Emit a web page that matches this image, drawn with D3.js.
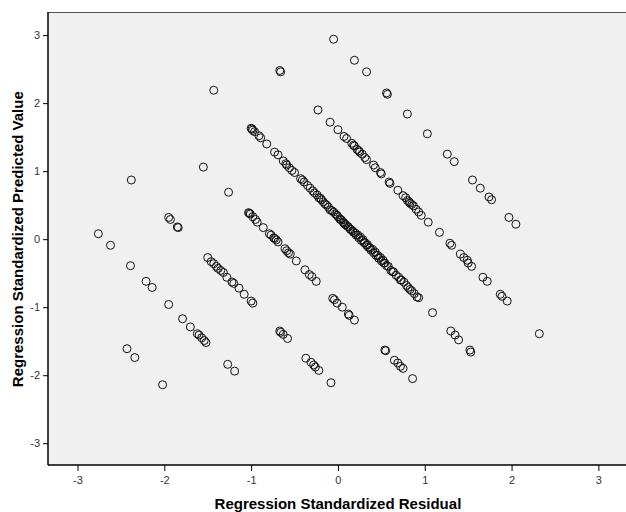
<!DOCTYPE html>
<html>
<head>
<meta charset="utf-8">
<script src="https://cdn.jsdelivr.net/npm/d3@7"></script>
<style>
  body { margin: 0; background: #fff; }
  .tick-text { font-family: Arial, "Liberation Sans", sans-serif; font-size: 11px; fill: #333; }
  .axis-title { font-family: Arial, "Liberation Sans", sans-serif; font-size: 15px; font-weight: bold; fill: #000; }
</style>
</head>
<body>
<div id="chart"></div>
<script>
// [standardized residual, standardized predicted] - one array per diagonal band
const bandA = [[-0.05,2.94],[0.19,2.63],[0.33,2.46],[0.56,2.15],[0.57,2.13],[0.80,1.84],[1.03,1.55],[1.26,1.25],[1.34,1.14],[1.55,0.87],[1.64,0.75],[1.74,0.62],[1.77,0.58],[1.97,0.32],[2.05,0.22]];
const bandB = [[-0.67,2.48],[-0.66,2.46],[-0.23,1.90],[-0.09,1.72],[0.00,1.61],[0.07,1.51],[0.10,1.48],[0.16,1.41],[0.18,1.38],[0.19,1.37],[0.22,1.32],[0.24,1.30],[0.25,1.28],[0.28,1.25],[0.31,1.20],[0.33,1.17],[0.41,1.09],[0.43,1.05],[0.49,0.98],[0.50,0.96],[0.59,0.84],[0.60,0.82],[0.69,0.72],[0.75,0.64],[0.78,0.61],[0.80,0.57],[0.82,0.55],[0.83,0.53],[0.85,0.51],[0.87,0.49],[0.90,0.44],[0.93,0.40],[0.96,0.35],[1.04,0.25],[1.17,0.10],[1.29,-0.06],[1.31,-0.09],[1.41,-0.22],[1.45,-0.27],[1.49,-0.31],[1.50,-0.35],[1.54,-0.40],[1.67,-0.56],[1.72,-0.62],[1.87,-0.81],[1.89,-0.84],[1.95,-0.91],[2.32,-1.39]];
const bandC = [[-1.43,2.19],[-1.00,1.63],[-0.99,1.62],[-0.98,1.60],[-0.96,1.58],[-0.91,1.52],[-0.89,1.49],[-0.82,1.40],[-0.73,1.28],[-0.69,1.24],[-0.63,1.15],[-0.60,1.11],[-0.59,1.09],[-0.56,1.05],[-0.53,1.01],[-0.50,0.98],[-0.43,0.89],[-0.41,0.87],[-0.39,0.84],[-0.35,0.79],[-0.32,0.75],[-0.29,0.71],[-0.27,0.68],[-0.24,0.65],[-0.22,0.61],[-0.20,0.60],[-0.19,0.58],[-0.17,0.55],[-0.15,0.52],[-0.13,0.50],[-0.11,0.47],[-0.09,0.43],[-0.07,0.42],[-0.05,0.40],[-0.03,0.37],[-0.01,0.35],[0.00,0.33],[0.02,0.30],[0.03,0.29],[0.04,0.28],[0.06,0.25],[0.07,0.24],[0.08,0.22],[0.09,0.21],[0.11,0.19],[0.12,0.18],[0.14,0.15],[0.15,0.14],[0.17,0.12],[0.18,0.10],[0.20,0.09],[0.21,0.06],[0.23,0.06],[0.24,0.02],[0.26,0.03],[0.27,-0.02],[0.29,-0.01],[0.30,-0.05],[0.31,-0.05],[0.33,-0.09],[0.34,-0.08],[0.35,-0.12],[0.37,-0.13],[0.38,-0.16],[0.40,-0.15],[0.41,-0.20],[0.43,-0.19],[0.44,-0.24],[0.46,-0.24],[0.47,-0.28],[0.49,-0.27],[0.50,-0.32],[0.52,-0.31],[0.53,-0.35],[0.54,-0.35],[0.56,-0.39],[0.58,-0.40],[0.61,-0.46],[0.63,-0.48],[0.64,-0.48],[0.67,-0.53],[0.70,-0.56],[0.72,-0.60],[0.73,-0.60],[0.76,-0.63],[0.79,-0.68],[0.81,-0.71],[0.83,-0.74],[0.85,-0.76],[0.88,-0.80],[0.91,-0.85],[0.93,-0.86],[1.09,-1.08],[1.30,-1.35],[1.35,-1.41],[1.39,-1.48],[1.52,-1.63],[1.53,-1.66]];
const bandD = [[-1.55,1.06],[-1.26,0.69],[-1.03,0.39],[-1.02,0.38],[-1.01,0.37],[-0.98,0.33],[-0.95,0.29],[-0.93,0.25],[-0.86,0.17],[-0.79,0.08],[-0.77,0.06],[-0.74,0.02],[-0.73,0.01],[-0.71,-0.01],[-0.69,-0.04],[-0.61,-0.14],[-0.59,-0.17],[-0.57,-0.20],[-0.55,-0.22],[-0.48,-0.32],[-0.38,-0.45],[-0.33,-0.52],[-0.30,-0.55],[-0.25,-0.62],[-0.06,-0.87],[-0.04,-0.89],[-0.01,-0.94],[0.05,-1.00],[0.12,-1.10],[0.13,-1.12],[0.19,-1.19],[0.54,-1.63],[0.55,-1.64],[0.65,-1.78],[0.69,-1.82],[0.72,-1.87],[0.75,-1.90],[0.86,-2.05]];
const bandE = [[-2.38,0.87],[-1.95,0.32],[-1.93,0.29],[-1.85,0.18],[-1.84,0.17],[-1.50,-0.27],[-1.46,-0.33],[-1.43,-0.36],[-1.40,-0.40],[-1.38,-0.43],[-1.35,-0.46],[-1.32,-0.49],[-1.28,-0.56],[-1.22,-0.63],[-1.20,-0.65],[-1.14,-0.72],[-1.08,-0.81],[-1.00,-0.91],[-0.98,-0.94],[-0.67,-1.35],[-0.66,-1.37],[-0.63,-1.40],[-0.58,-1.46],[-0.37,-1.75],[-0.31,-1.81],[-0.28,-1.85],[-0.26,-1.88],[-0.22,-1.93],[-0.08,-2.11]];
const bandF = [[-2.76,0.08],[-2.62,-0.09],[-2.39,-0.39],[-2.21,-0.62],[-2.14,-0.71],[-1.95,-0.96],[-1.79,-1.17],[-1.70,-1.29],[-1.62,-1.39],[-1.60,-1.41],[-1.57,-1.45],[-1.54,-1.49],[-1.52,-1.52],[-1.27,-1.84],[-1.19,-1.94]];
const bandG = [[-2.43,-1.61],[-2.34,-1.74],[-2.02,-2.14]];

const xTicks = [-3, -2, -1, 0, 1, 2, 3];
const yTicks = [-3, -2, -1, 0, 1, 2, 3];

const X_LABEL = 'Regression Standardized Residual';
const Y_LABEL = 'Regression Standardized Predicted Value';

const width = 626;
const height = 512;
const plot = { left: 48, top: 12, right: 627, bottom: 465 };

const points = [].concat(bandA, bandB, bandC, bandD, bandE, bandF, bandG);

const svg = d3.select('#chart')
  .append('svg')
    .attr('width', width)
    .attr('height', height);

const x = d3.scaleLinear()
  .domain([-3.34, 3.33])
  .range([plot.left, plot.right]);

const y = d3.scaleLinear()
  .domain([-3.32, 3.34])
  .range([plot.bottom, plot.top]);

// plot background
svg.append('rect')
  .attr('x', plot.left)
  .attr('y', plot.top)
  .attr('width', plot.right - plot.left)
  .attr('height', plot.bottom - plot.top)
  .attr('fill', '#f0f0f0');

// top frame line
svg.append('line')
  .attr('x1', plot.left).attr('x2', plot.right)
  .attr('y1', plot.top + 0.5).attr('y2', plot.top + 0.5)
  .attr('stroke', '#555')
  .attr('stroke-width', 1);

svg.append('g')
  .attr('class', 'points')
  .selectAll('circle')
  .data(points)
  .enter().append('circle')
    .attr('cx', d => x(d[0]))
    .attr('cy', d => y(d[1]))
    .attr('r', 4)
    .attr('fill', 'none')
    .attr('stroke', '#111')
    .attr('stroke-width', 1);

// plain hyphen for negatives, like the original
const fmt = d => String(d);

const xAxis = svg.append('g')
  .attr('transform', `translate(0,${plot.bottom})`)
  .call(d3.axisBottom(x).tickValues(xTicks).tickSize(6).tickPadding(5).tickFormat(fmt));

const yAxis = svg.append('g')
  .attr('transform', `translate(${plot.left},0)`)
  .call(d3.axisLeft(y).tickValues(yTicks).tickSize(5).tickPadding(3).tickFormat(fmt));

[xAxis, yAxis].forEach(ax => {
  ax.select('.domain').remove();
  ax.selectAll('.tick line').attr('stroke', '#000');
  ax.selectAll('.tick text')
    .attr('class', 'tick-text')
    .attr('fill', null);
});

// axis lines drawn over the points
svg.append('line')
  .attr('x1', plot.left).attr('x2', plot.left)
  .attr('y1', plot.top).attr('y2', plot.bottom)
  .attr('stroke', '#000')
  .attr('stroke-width', 1.5);

svg.append('line')
  .attr('x1', plot.left).attr('x2', plot.right)
  .attr('y1', plot.bottom).attr('y2', plot.bottom)
  .attr('stroke', '#000')
  .attr('stroke-width', 1.5);

svg.append('text')
  .attr('class', 'axis-title')
  .attr('x', x(0))
  .attr('y', 509)
  .attr('text-anchor', 'middle')
  .text(X_LABEL);

svg.append('text')
  .attr('class', 'axis-title')
  .attr('transform', `translate(23,${y(0)}) rotate(-90)`)
  .attr('text-anchor', 'middle')
  .text(Y_LABEL);
</script>
</body>
</html>
